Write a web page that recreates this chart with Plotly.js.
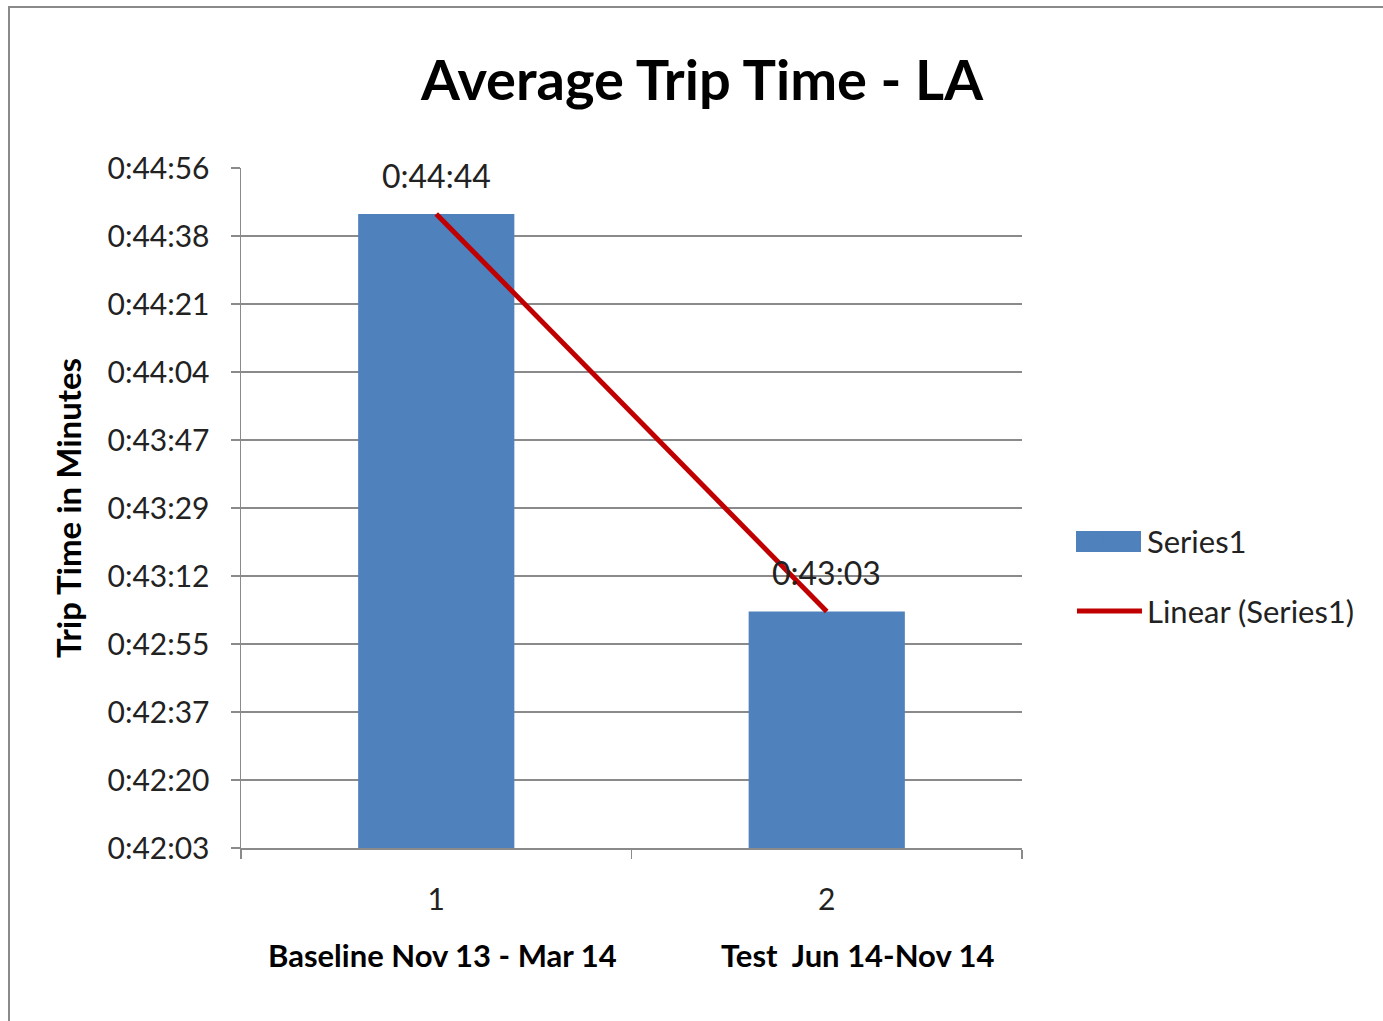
<!DOCTYPE html>
<html>
<head>
<meta charset="utf-8">
<script src="https://cdn.plot.ly/plotly-3.0.1.min.js"></script>
<style>
  html, body { margin: 0; padding: 0; background: #ffffff; }
  #wrap { position: relative; width: 1383px; height: 1021px; overflow: hidden; }
  #chart { position: absolute; left: 0; top: 0; width: 1383px; height: 1021px; }
  #frame { position: absolute; left: 8px; top: 6px; width: 1400px; height: 1100px;
           border-left: 2px solid #8a8a8a; border-top: 2px solid #8a8a8a; pointer-events: none; }
</style>
</head>
<body>
<div id="wrap">
  <div id="chart"></div>
  <div id="frame"></div>
</div>
<script>
// ---- data ----
const categories = ['1', '2'];
const categoryNames = ['Baseline Nov 13 - Mar 14', 'Test\u00a0 Jun 14-Nov 14'];
const tripTimes = ['0:44:44', '0:43:03'];
const yTickValuesDays = [0.0292, 0.0294, 0.0296, 0.0298, 0.0300, 0.0302, 0.0304, 0.0306, 0.0308, 0.0310, 0.0312];
const yTickLabels = ['0:42:03', '0:42:20', '0:42:37', '0:42:55', '0:43:12', '0:43:29', '0:43:47', '0:44:04', '0:44:21', '0:44:38', '0:44:56'];
const seriesName = 'Series1';
const trendName = 'Linear (Series1)';

// ---- helpers ----
function toDays(s) {
  const p = s.split(':').map(Number);
  return (p[0] * 3600 + p[1] * 60 + p[2]) / 86400;
}
const values = tripTimes.map(toDays);

// linear least-squares trendline over category index
const xs = categories.map((c, i) => i + 1);
const n = xs.length;
const mx = xs.reduce((a, b) => a + b, 0) / n;
const my = values.reduce((a, b) => a + b, 0) / n;
let sxy = 0, sxx = 0;
for (let i = 0; i < n; i++) { sxy += (xs[i] - mx) * (values[i] - my); sxx += (xs[i] - mx) ** 2; }
const slope = sxy / sxx;
const intercept = my - slope * mx;
const trendY = xs.map(x => intercept + slope * x);

const FONT = 'Lato, "Open Sans", sans-serif';
const BAR_COLOR = '#4F81BD';

const barTrace = {
  type: 'bar',
  x: categories,
  y: values,
  name: seriesName,
  marker: { color: BAR_COLOR },
  hoverinfo: 'skip',
  legendgroup: 'a'
};
const trendTrace = {
  type: 'scatter',
  mode: 'lines',
  x: categories,
  y: trendY,
  name: trendName,
  line: { color: '#C00000', width: 5 },
  hoverinfo: 'skip',
  legendgroup: 'b'
};

const annotations = [];
categories.forEach((c, i) => {
  annotations.push({
    x: i, y: values[i], xref: 'x', yref: 'y',
    text: tripTimes[i], showarrow: false,
    yanchor: 'bottom', yshift: 17,
    font: { family: FONT, size: 32, color: '#222222' }
  });
});
const nameShift = [6, 31];
categories.forEach((c, i) => {
  annotations.push({
    x: i, y: -0.157, xref: 'x', yref: 'paper',
    text: '<b>' + categoryNames[i] + '</b>', showarrow: false,
    yanchor: 'middle', xshift: nameShift[i],
    font: { family: FONT, size: 31, color: '#000000' }
  });
});

// enlarged legend swatch for the bar series (Excel-style wide key)
const shapes = [{
  type: 'rect', xref: 'paper', yref: 'paper', layer: 'above',
  x0: (1076 - 241) / 781, x1: (1141 - 241) / 781,
  y0: (848 - 552) / 680, y1: (848 - 531) / 680,
  fillcolor: BAR_COLOR, line: { width: 0 }
}];

const layout = {
  width: 1383, height: 1021,
  margin: { l: 241, r: 361, t: 168, b: 173, pad: 0 },
  paper_bgcolor: '#ffffff',
  plot_bgcolor: '#ffffff',
  bargap: 0.6,
  title: {
    text: '<b>Average Trip Time - LA</b>',
    x: 702 / 1383, xanchor: 'center', xref: 'container',
    y: 1 - 80 / 1021, yanchor: 'middle', yref: 'container',
    font: { family: FONT, size: 56, color: '#000000' }
  },
  xaxis: {
    type: 'category',
    range: [-0.5, categories.length - 0.5],
    autorange: false,
    showline: true, linecolor: '#8a8a8a', linewidth: 1.5,
    ticks: 'outside', ticklen: 9, tickcolor: '#8a8a8a', tickwidth: 1.5,
    tickson: 'boundaries',
    showgrid: false,
    ticklabelstandoff: 24,
    tickfont: { family: FONT, size: 30, color: '#222222' },
    fixedrange: true
  },
  yaxis: {
    range: [yTickValuesDays[0], yTickValuesDays[yTickValuesDays.length - 1]],
    autorange: false,
    tickmode: 'array', tickvals: yTickValuesDays, ticktext: yTickLabels,
    showline: true, linecolor: '#8a8a8a', linewidth: 1.5,
    ticks: 'outside', ticklen: 9, tickcolor: '#8a8a8a', tickwidth: 1.5,
    showgrid: true, gridcolor: '#8a8a8a', gridwidth: 1.2,
    zeroline: false,
    ticklabelstandoff: 15,
    tickfont: { family: FONT, size: 30, color: '#222222' },
    title: {
      text: '<b>Trip Time in Minutes</b>',
      font: { family: FONT, size: 33, color: '#000000' },
      standoff: 16
    },
    fixedrange: true
  },
  showlegend: true,
  legend: {
    x: 1.064, xanchor: 'left', xref: 'paper',
    y: 0.40, yanchor: 'middle',
    font: { family: FONT, size: 31, color: '#222222' },
    tracegroupgap: 27,
    itemwidth: 65,
    bgcolor: 'rgba(0,0,0,0)'
  },
  shapes: shapes,
  annotations: annotations
};

Plotly.newPlot('chart', [barTrace, trendTrace], layout, { staticPlot: true, displayModeBar: false });
</script>
</body>
</html>
